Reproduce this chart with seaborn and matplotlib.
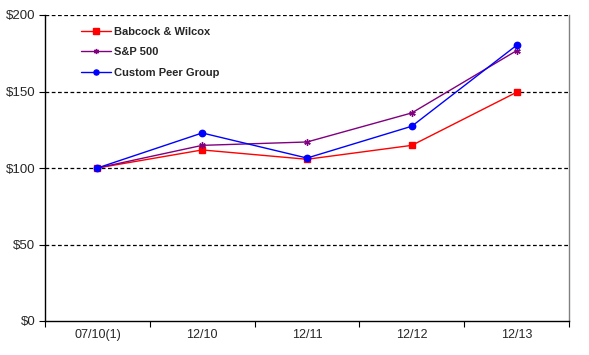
import pandas as pd
import matplotlib.pyplot as plt
import seaborn as sns
from matplotlib.ticker import FixedLocator, FuncFormatter

# Data
periods = ["07/10(1)", "12/10", "12/11", "12/12", "12/13"]
babcock = [100, 111.8, 105.7, 114.8, 149.5]
sp500 = [100, 114.8, 117.0, 136.0, 176.7]
peer = [100, 122.9, 106.5, 127.3, 180.2]

series_names = ["Babcock & Wilcox", "S&P 500", "Custom Peer Group"]
colors = ["#FF0000", "#800080", "#0000FF"]
markers = ["s", (6, 2, 0), "o"]

df = pd.DataFrame({
    "period": periods * 3,
    "value": babcock + sp500 + peer,
    "series": [n for n in series_names for _ in periods],
})

sns.set_style("white")
plt.rcParams['font.family'] = ['Liberation Sans', 'DejaVu Sans']

fig = plt.figure(figsize=(5.89, 3.55), dpi=100)
ax = fig.add_axes([45 / 589, 34 / 355, 524 / 589, 306 / 355])

for name, col, mk in zip(series_names, colors, markers):
    sub = df[df["series"] == name]
    sns.lineplot(data=sub, x="period", y="value", color=col, marker=mk,
                 markersize=4.6, markeredgecolor=col, markeredgewidth=1.0,
                 linewidth=1.0, label=name, ax=ax)

# Axes styling
ax.set_xlim(-0.5, len(periods) - 0.5)
ax.set_ylim(0, 200)
ax.set_yticks([0, 50, 100, 150, 200])
ax.yaxis.set_major_formatter(FuncFormatter(lambda v, p: f"${v:.0f}"))
for v in [50, 100, 150, 200]:
    ax.axhline(v, color="black", linestyle=(0, (3, 2)), linewidth=0.9, zorder=0)

ax.set_xticks(range(len(periods)))
ax.set_xticklabels(periods)
ax.xaxis.set_minor_locator(FixedLocator([i - 0.5 for i in range(len(periods) + 1)]))
ax.tick_params(axis="x", which="major", length=0, pad=6, labelsize=9)
ax.tick_params(axis="x", which="minor", length=4, width=0.8, color="black", direction="out", bottom=True)
ax.tick_params(axis="y", which="major", length=4, width=0.8, color="black", direction="out", left=True, labelsize=9.5, pad=3)

ax.set_xlabel("")
ax.set_ylabel("")

for side in ["left", "bottom"]:
    ax.spines[side].set_color("black")
    ax.spines[side].set_linewidth(1.0)
ax.spines["top"].set_visible(False)
ax.spines["right"].set_color("#808080")
ax.spines["right"].set_linewidth(1.0)

leg = ax.legend(loc="upper left", bbox_to_anchor=(0.05, 0.995), frameon=False,
                prop={"size": 8, "weight": "bold"}, handlelength=2.7,
                labelspacing=0.95, handletextpad=0.25, markerscale=0.8)

fig.savefig("out.png", dpi=100)
